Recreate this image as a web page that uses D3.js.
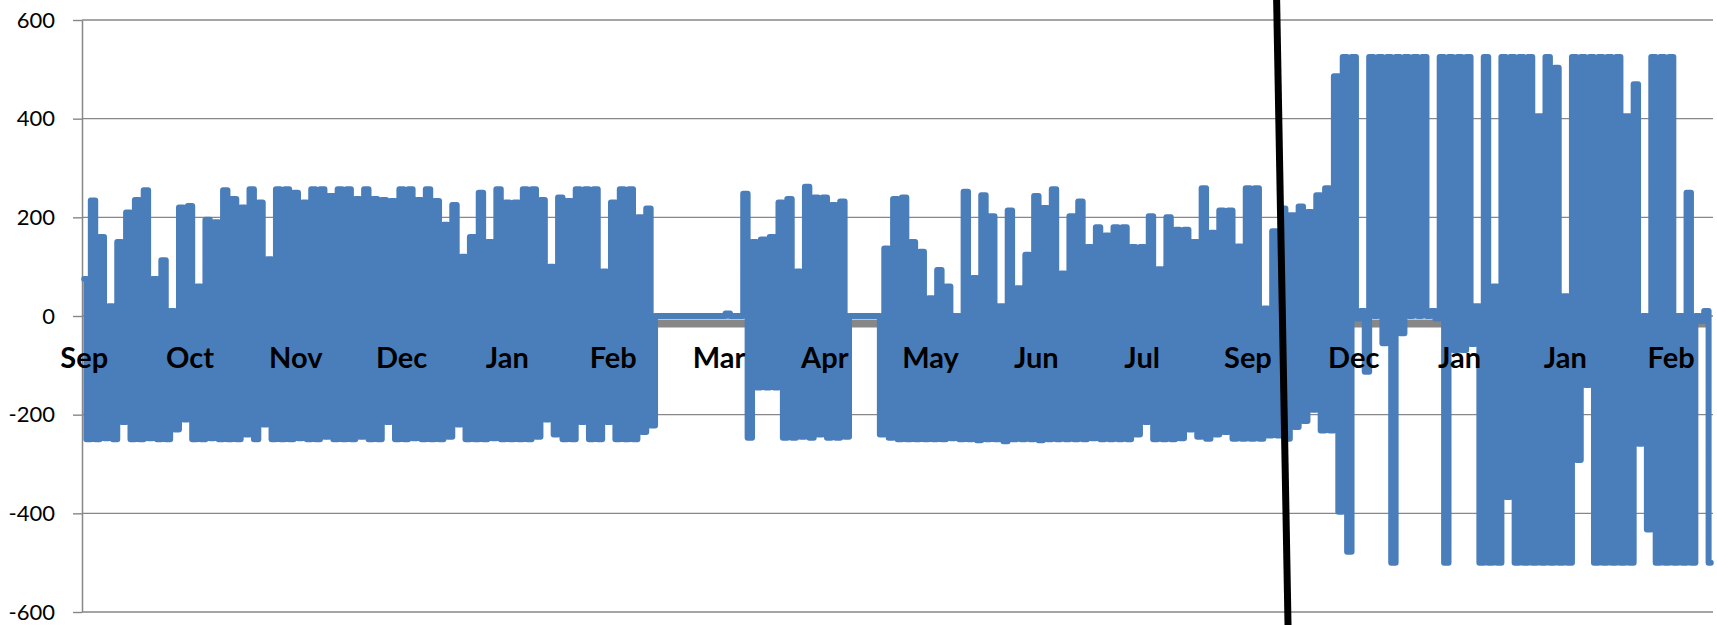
<!DOCTYPE html>
<html>
<head>
<meta charset="utf-8">
<script src="https://cdn.jsdelivr.net/npm/d3@7"></script>
<style>
  html, body { margin: 0; padding: 0; background: #ffffff; }
  svg { display: block; }
</style>
</head>
<body>
<svg id="chart" width="1717" height="625"></svg>
<script>
// Category labels along the time axis (one every 24 readings)
const monthLabels = ["Sep", "Oct", "Nov", "Dec", "Jan", "Feb", "Mar", "Apr",
                     "May", "Jun", "Jul", "Sep", "Dec", "Jan", "Jan", "Feb"];
const labelEvery = 24;

// Value axis ticks
const yTicks = [-600, -400, -200, 0, 200, 400, 600];

// Power readings: upper and lower swing of each sampling interval
const highs = [
  75, 234, 160, 20, 150, 210, 235, 255, 75, 113,
  10, 220, 223, 60, 195, 190, 255, 237, 220, 257,
  230, 115, 257, 257, 250, 230, 257, 257, 243, 257,
  257, 237, 257, 237, 235, 233, 257, 257, 235, 257,
  233, 185, 225, 120, 160, 250, 150, 257, 230, 230,
  257, 257, 235, 100, 240, 233, 257, 257, 257, 90,
  230, 257, 257, 200, 218, 0, 0, 0, 0, 0,
  0, 0, 0, 5, 0, 248, 150, 155, 160, 230,
  237, 90, 262, 240, 240, 225, 232, 0, 0, 0,
  0, 137, 237, 240, 150, 130, 36, 93, 60, 0,
  252, 77, 245, 202, 20, 214, 56, 124, 243, 219,
  257, 86, 202, 232, 140, 180, 163, 180, 180, 140,
  140, 202, 95, 200, 175, 175, 150, 259, 169, 214,
  214, 141, 259, 259, 15, 172, 218, 204, 222, 211,
  245, 259, 486, 525, 525, 10, 525, 525, 525, 525,
  525, 525, 525, 10, 525, 525, 525, 525, 20, 525,
  60, 525, 525, 525, 525, 405, 525, 503, 40, 525,
  525, 525, 525, 525, 525, 405, 470, 0, 525, 525,
  525, 0, 250, 0, 10
];
const lows = [
  -250, -250, -248, -250, -215, -250, -250, -248, -250, -250,
  -230, -210, -250, -250, -248, -250, -250, -250, -240, -250,
  -220, -250, -250, -250, -248, -250, -250, -245, -250, -250,
  -250, -245, -250, -250, -215, -250, -250, -248, -250, -250,
  -250, -245, -220, -250, -250, -250, -248, -250, -250, -250,
  -250, -245, -210, -240, -250, -250, -215, -250, -250, -215,
  -250, -250, -250, -235, -222, 0, 0, 0, 0, 0,
  0, 0, 0, 0, 0, -247, -145, -145, -145, -247,
  -247, -245, -247, -240, -247, -247, -245, 0, 0, 0,
  -240, -247, -250, -250, -250, -250, -250, -250, -248, -250,
  -250, -252, -250, -250, -254, -250, -250, -250, -252, -250,
  -250, -250, -250, -250, -248, -250, -250, -250, -250, -240,
  -215, -250, -250, -250, -248, -230, -245, -249, -240, -235,
  -249, -249, -249, -249, -242, -242, -249, -225, -213, -190,
  -232, -232, -397, -478, -5, -113, 0, -55, -500, -35,
  0, 0, 0, -5, -500, -69, -69, -57, -500, -500,
  -500, -367, -500, -500, -500, -500, -500, -500, -500, -292,
  -140, -500, -500, -500, -500, -500, -259, -433, -500, -500,
  -500, -500, -500, -10, -500
];

// Second series: constant baseline level
const baselineLevel = -15;

// Hand-drawn divider line, in (reading index, value) terms
const dividerIdx = [270.5, 273.1];
const dividerVal = [645, -630];

// Readings in time order: each interval swings high then low
const readings = highs.flatMap((h, k) => [h, lows[k]]);

const svg = d3.select("#chart");
const plot = { left: 82, right: 1713, top: 20, bottom: 612 };

const x = d3.scaleLinear()
  .domain([-0.5, readings.length - 0.5])
  .range([plot.left, plot.right]);
const y = d3.scaleLinear()
  .domain([-600, 600])
  .range([plot.bottom, plot.top]);

const gridColor = "#878787";

// Horizontal gridlines
svg.append("g")
  .selectAll("line")
  .data(yTicks)
  .join("line")
  .attr("x1", plot.left)
  .attr("x2", plot.right)
  .attr("y1", d => y(d))
  .attr("y2", d => y(d))
  .attr("stroke", gridColor)
  .attr("stroke-width", 1.4);

// Value axis with outside ticks (plain hyphen for negatives)
const yAxis = d3.axisLeft(y)
  .tickValues(yTicks)
  .tickSize(9)
  .tickSizeOuter(0)
  .tickPadding(18)
  .tickFormat(d => String(d));
const gy = svg.append("g")
  .attr("transform", `translate(${plot.left},0)`)
  .call(yAxis);
gy.select(".domain").attr("stroke", gridColor).attr("stroke-width", 1.5);
gy.selectAll(".tick line").attr("stroke", gridColor).attr("stroke-width", 1.4);
gy.selectAll(".tick text")
  .attr("fill", "#000")
  .style("font-family", "Lato, 'Open Sans', sans-serif")
  .style("font-size", "22px");

// Baseline series (grey band)
svg.append("line")
  .attr("x1", x(0))
  .attr("x2", x(readings.length - 1))
  .attr("y1", y(baselineLevel))
  .attr("y2", y(baselineLevel))
  .attr("stroke", "#878787")
  .attr("stroke-width", 8);

// Main power series
const line = d3.line()
  .x((d, i) => x(i))
  .y(d => y(d))
  .curve(d3.curveStep);
svg.append("path")
  .datum(readings)
  .attr("d", line)
  .attr("fill", "none")
  .attr("stroke", "#4A7EBB")
  .attr("stroke-width", 6)
  .attr("stroke-linejoin", "round")
  .attr("stroke-linecap", "round");

// Category labels next to the zero line
svg.append("g")
  .selectAll("text")
  .data(monthLabels)
  .join("text")
  .attr("x", (d, j) => x(j * labelEvery))
  .attr("y", y(0) + 52)
  .attr("text-anchor", "middle")
  .style("font-family", "Lato, 'Open Sans', sans-serif")
  .style("font-weight", "bold")
  .style("font-size", "29px")
  .attr("fill", "#000")
  .text(d => d);

// Divider
svg.append("line")
  .attr("x1", x(dividerIdx[0]))
  .attr("y1", y(dividerVal[0]))
  .attr("x2", x(dividerIdx[1]))
  .attr("y2", y(dividerVal[1]))
  .attr("stroke", "#000")
  .attr("stroke-width", 7);
</script>
</body>
</html>
